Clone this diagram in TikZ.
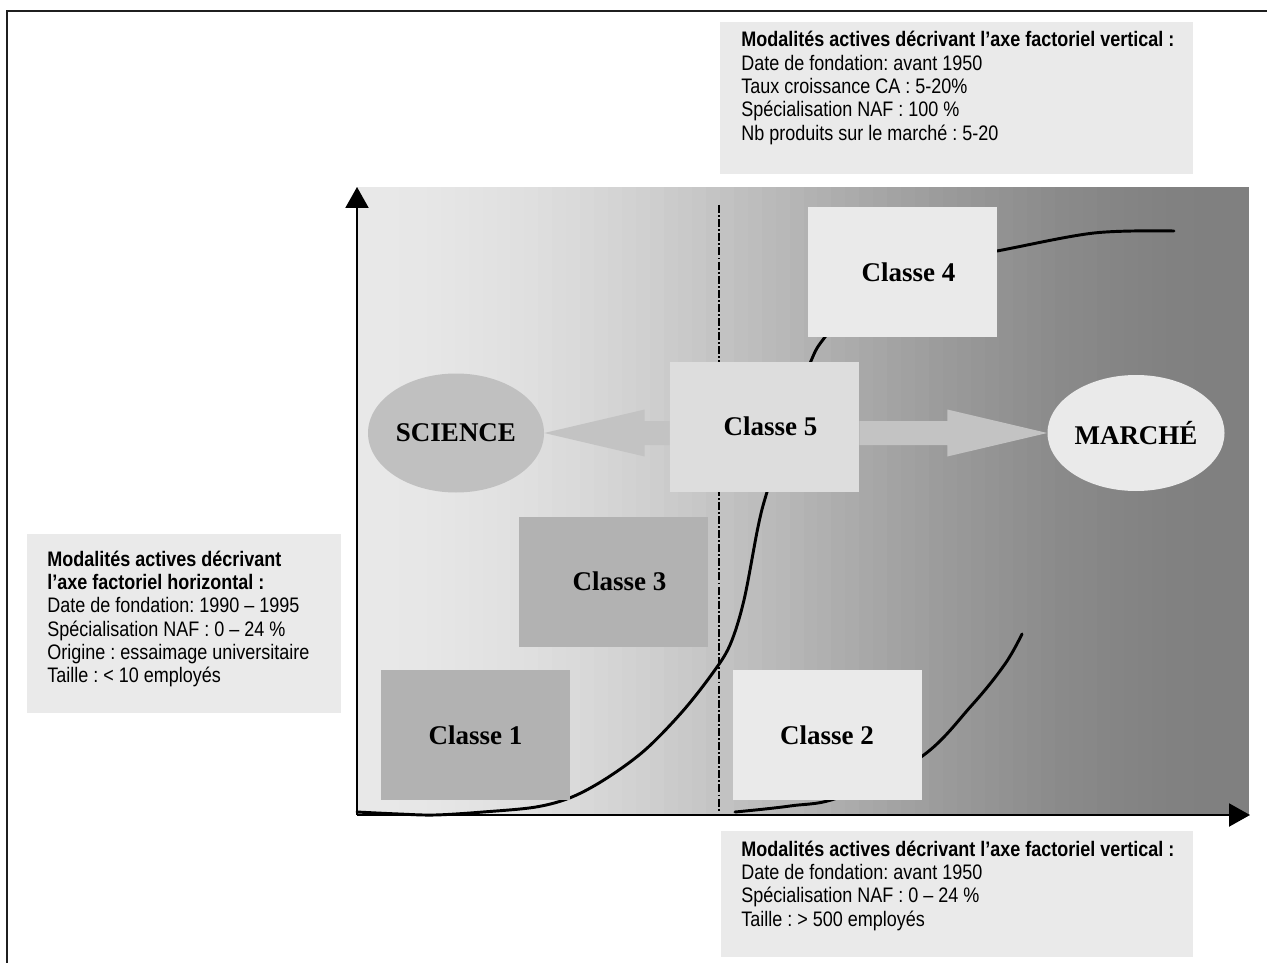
\documentclass[tikz,border=0pt]{standalone}
\usepackage{fontspec}
\setmainfont{Liberation Serif}
\newfontfamily\narsans[FakeStretch=0.857]{Liberation Sans}
\usetikzlibrary{shapes.geometric,arrows.meta,calc}
\definecolor{notegray}{HTML}{EAEAEA}
\definecolor{lightbox}{HTML}{EAEAEA}
\definecolor{midbox}{HTML}{DDDDDD}
\definecolor{darkbox}{HTML}{B2B2B2}
\definecolor{sciencegray}{HTML}{C0C0C0}
\definecolor{arrowgray}{HTML}{C3C3C3}
\pgfdeclarelayer{bg}
\pgfsetlayers{bg,main}
\frenchspacing
\begin{document}
\begin{tikzpicture}[x=0.75pt,y=-0.75pt,
  notebox/.style={fill=notegray, draw=none, rectangle, inner sep=0pt, anchor=north west},
  notetext/.style={font=\narsans\fontsize{15.75}{17.5}\selectfont\frenchspacing, align=left, anchor=base west, inner sep=0pt},
  classbox/.style={rectangle, draw=none, minimum width=141.75pt, minimum height=97.5pt, inner sep=0pt, font=\bfseries\fontsize{20.25}{24}\selectfont},
  pole/.style={ellipse, draw=none, inner sep=0pt, font=\bfseries\fontsize{20.25}{24}\selectfont},
  fatarrow/.style={fill=arrowgray, draw=none},
  curve/.style={line width=2.2pt, line cap=round},
  dashdotline/.style={line width=1.1pt, dash pattern=on 6pt off 1.6pt on 1.4pt off 1.6pt},
  axis/.style={line width=1.6pt, -{Triangle[length=15.75pt,width=17.25pt]}},
  frameline/.style={line width=1.5pt, draw=black!88}
]
\useasboundingbox (0,0) rectangle (1267,963);

% nodes
\node[classbox, fill=lightbox] (c4) at (902.5,272) {\hspace*{9pt}Classe 4};
\node[classbox, fill=midbox] (c5) at (764.5,426.5) {\hspace*{9pt}Classe 5};
\node[classbox, fill=darkbox] (c3) at (613.5,581.5) {\hspace*{9pt}Classe 3};
\node[classbox, fill=darkbox] (c1) at (475.5,735) {Classe 1};
\node[classbox, fill=lightbox] (c2) at (827,735) {Classe 2};
\node[pole, fill=sciencegray, minimum width=132pt, minimum height=89.25pt] (sci) at (456,433) {SCIENCE};
\node[pole, fill=lightbox, minimum width=132.75pt, minimum height=87pt] (mar) at (1136,433) {MARCHÉ};

\coordinate (la) at (c5.west |- sci.east);
\coordinate (ra) at (c5.east |- mar.west);

\begin{pgfonlayer}{bg}
  \fill[white] (0,0) rectangle (1267,963);
  \foreach \i in {0,...,63}{
    \pgfmathsetmacro\xa{357+\i*13.953}
    \pgfmathsetmacro\xb{min(\xa+14.5,1249)}
    \pgfmathsetmacro\g{0.5+0.205*(1+cos(180*(\i+0.5)/64))}
    \definecolor{bgc}{gray}{\g}
    \fill[bgc] (\xa,187) rectangle (\xb,815);
  }
  \coordinate (dtop) at (719,205);
  \coordinate (dbot) at (719,812);
  \draw[dashdotline] (dtop) -- (dbot);
  \draw[curve] plot[smooth, tension=0.55] coordinates {(357,812) (399,814) (435,815) (483,812) (536,807) (572,797) (607,778) (645,750) (682,712) (712,674) (730,645) (744,600) (758,527) (767,492) (790,420) (811,361) (825,337) (865,290) (920,265) (997,251) (1094,233) (1174,231)};
  \draw[curve] plot[smooth, tension=0.6] coordinates {(735,812) (790,806) (840,797) (921,757) (972,705) (1005,664) (1022,634)};
  \fill[fatarrow] ($(la)+(0,-12)$) -- ++(-25,0) -- ++(0,-11.5) -- (sci.east) -- ($(la)+(-25,23.5)$) -- ++(0,-11.5) -- ($(la)+(0,12)$) -- cycle;
  \fill[fatarrow] ($(ra)+(0,-12)$) -- ++(88,0) -- ++(0,-11.5) -- (mar.west) -- ($(ra)+(88,23.5)$) -- ++(0,-11.5) -- ($(ra)+(0,12)$) -- cycle;
\end{pgfonlayer}

% axes
\coordinate (O) at (357,815);
\coordinate (ytop) at (357,187);
\coordinate (xend) at (1250,815);
\draw[axis] (O) -- (ytop);
\draw[axis] (O) -- (xend);

% note boxes (text anchored at the baseline of its last line)
\node[notebox, minimum width=354.75pt, minimum height=114pt] (topbox) at (720,22) {};
\node[notetext] (toptext) at (741,140.3) {\textbf{Modalités actives décrivant l’axe factoriel vertical :}\\Date de fondation: avant 1950\\Taux croissance CA : 5-20\%\\Spécialisation NAF : 100 \%\\Nb produits sur le marché : 5-20};

\node[notebox, minimum width=235.5pt, minimum height=134.25pt] (leftbox) at (27,534) {};
\node[notetext] (lefttext) at (47,682.7) {\textbf{Modalités actives décrivant}\\\textbf{l’axe factoriel horizontal :}\\Date de fondation: 1990 – 1995\\Spécialisation NAF : 0 – 24 \%\\Origine : essaimage universitaire\\Taille : < 10 employés};

\node[notebox, minimum width=354pt, minimum height=94.5pt] (botbox) at (721,831) {};
\node[notetext] (bottext) at (741,926) {\textbf{Modalités actives décrivant l’axe factoriel vertical :}\\Date de fondation: avant 1950\\Spécialisation NAF : 0 – 24 \%\\Taille : > 500 employés};

% frame
\coordinate (f1) at (7,963);
\coordinate (f2) at (7,11);
\coordinate (f3) at (1267,11);
\draw[frameline] (f1) -- (f2) -- (f3);
\end{tikzpicture}
\end{document}
